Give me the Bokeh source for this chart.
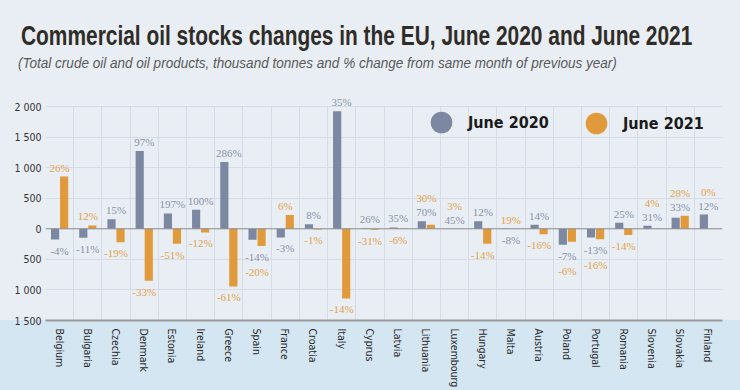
import numpy as np
from bokeh.plotting import figure
from bokeh.layouts import column
from bokeh.models import (ColumnDataSource, FactorRange, Range1d, FixedTicker, Grid, Span,
                          LabelSet, Legend, LegendItem, GlobalInlineStyleSheet, Div,
                          BoxAnnotation)
from bokeh.transform import dodge
from bokeh.embed import file_html
from bokeh.resources import INLINE

# ---------------- data ----------------
countries = ["Belgium", "Bulgaria", "Czechia", "Denmark", "Estonia", "Ireland", "Greece",
             "Spain", "France", "Croatia", "Italy", "Cyprus", "Latvia", "Lithuania",
             "Luxembourg", "Hungary", "Malta", "Austria", "Poland", "Portugal", "Romania",
             "Slovenia", "Slovakia", "Finland"]
jun2020 = [-175, -147, 158, 1275, 251, 311, 1095, -180, -142, 76, 1924, 10, 22, 125,
           3, 125, -3, 65, -262, -142, 98, 49, 180, 234]
jun2021 = [855, 55, -218, -850, -245, -60, -943, -283, 224, -10, -1139, -15, -5, 65,
           1, -245, 3, -87, -212, -169, -103, 5, 212, 0]
pct2020 = ["-4%", "-11%", "15%", "97%", "197%", "100%", "286%", "-14%", "-3%", "8%", "35%",
           "26%", "35%", "70%", "45%", "12%", "-8%", "14%", "-7%", "-13%", "25%", "31%",
           "33%", "12%"]
pct2021 = ["26%", "12%", "-19%", "-33%", "-51%", "-12%", "-61%", "-20%", "6%", "-1%", "-14%",
           "-31%", "-6%", "30%", "3%", "-14%", "19%", "-16%", "-6%", "-16%", "-14%", "4%",
           "28%", "0%"]
y_ticks = [-1500, -1000, -500, 0, 500, 1000, 1500, 2000]
y_tick_labels = ["1 500", "1 000", "500", "0", "500", "1 000", "1 500", "2 000"]
series_names = ["June 2020", "June 2021"]
title_text = "Commercial oil stocks changes in the EU, June 2020 and June 2021"
subtitle_text = ("(Total crude oil and oil products, thousand tonnes and % change "
                 "from same month of previous year)")

C20 = "#7c88a1"
C21 = "#e09a3b"
C20_TXT = "#8792a9"
C21_TXT = "#e3a24a"
BG = "#e9eef4"
BAND = "#d5e6f3"
FONT = "DejaVu Sans Condensed"
Y_HEADROOM = 230   # extra room above the 2 000 line so top labels are not clipped

bars = ColumnDataSource(dict(country=countries, v20=jun2020, v21=jun2021))

# label anchors: stacked when both values share a sign
lab_x, lab_y, lab_t, lab_off, lab_c = [], [], [], [], []
for i, c in enumerate(countries):
    a, b = jun2020[i], jun2021[i]
    same = (a >= 0) == (b >= 0)
    for lvl, (v, t, col) in enumerate([(a, pct2020[i], C20_TXT), (b, pct2021[i], C21_TXT)]):
        if same:
            anchor = max(a, b) if a >= 0 else min(a, b)
            level = lvl
        else:
            anchor = v
            level = 0
        off = (9 + 14 * level) if v >= 0 else -(11 + 15 * level)
        lab_x.append(c)
        lab_y.append(anchor)
        lab_t.append(t)
        lab_off.append(off)
        lab_c.append(col)
labels = ColumnDataSource(dict(x=lab_x, y=lab_y, t=lab_t, off=lab_off, c=lab_c))

# ---------------- title block ----------------
title_html = (
    '<div style="position:relative;width:740px;height:78px;overflow:hidden;">'
    '<div style="position:absolute;left:21px;top:23px;white-space:nowrap;'
    'font-family:\'Liberation Sans\',Arial,sans-serif;font-weight:bold;font-size:27px;'
    'line-height:27px;color:#302d28;transform:scaleX(0.774);transform-origin:0 0;">'
    + title_text + '</div>'
    '<div style="position:absolute;left:18px;top:56px;white-space:nowrap;'
    'font-family:\'Liberation Sans\',Arial,sans-serif;font-style:italic;font-size:14.5px;'
    'line-height:14.5px;color:#5a5a5a;transform:scaleX(0.933);transform-origin:0 0;">'
    + subtitle_text + '</div></div>')
head = Div(text=title_html, width=740, height=78, margin=0)

# ---------------- figure ----------------
p = figure(x_range=FactorRange(factors=countries, range_padding=0),
           y_range=Range1d(y_ticks[0], y_ticks[-1] + Y_HEADROOM),
           width=740, height=312, output_backend="svg", toolbar_location=None,
           min_border_left=45, min_border_right=18, min_border_top=14, min_border_bottom=70)
p.margin = 0
p.border_fill_color = None
p.background_fill_color = BG
p.outline_line_color = None
p.stylesheets = [GlobalInlineStyleSheet(css=(
    "html{min-height:100%;background:linear-gradient(180deg," + BG + " 0px," + BG +
    " 320px," + BAND + " 320px," + BAND + " 100%) !important;}"
    "body{background:transparent !important;}"))]

# grids
p.xgrid.visible = False
p.add_layout(Grid(dimension=0, ticker=FixedTicker(ticks=list(range(len(countries) + 1))),
                  grid_line_color="#d6dce5", grid_line_width=1))
p.yaxis.ticker = FixedTicker(ticks=y_ticks)
p.ygrid.grid_line_color = "#d6dce5"
p.ygrid.grid_line_width = 1
# hide vertical grid lines above the top (2 000) line
p.add_layout(BoxAnnotation(bottom=y_ticks[-1] + 8, fill_color=BG, fill_alpha=1,
                           line_color=None, level="underlay"))

# axes
p.yaxis.major_label_overrides = {t: s for t, s in zip(y_ticks, y_tick_labels)}
p.yaxis.axis_line_color = None
p.yaxis.major_tick_line_color = None
p.yaxis.minor_tick_line_color = None
p.yaxis.major_tick_out = 0
p.yaxis.major_label_standoff = 4
p.yaxis.major_label_text_font = FONT
p.yaxis.major_label_text_font_size = "10.5px"
p.yaxis.major_label_text_color = "#333333"

p.xaxis.axis_line_color = "#9a9a9a"
p.xaxis.axis_line_width = 2
p.xaxis.major_tick_line_color = None
p.xaxis.major_tick_out = 0
p.xaxis.major_tick_in = 0
p.xaxis.major_label_orientation = "vertical"
p.xaxis.major_label_standoff = 8
p.xaxis.major_label_text_font = FONT
p.xaxis.major_label_text_font_size = "10.5px"
p.xaxis.major_label_text_color = "#2b2b2b"

# bars
p.vbar(x=dodge("country", -0.16, range=p.x_range), top="v20", width=0.29, source=bars,
       fill_color=C20, line_color=None)
p.vbar(x=dodge("country", 0.16, range=p.x_range), top="v21", width=0.29, source=bars,
       fill_color=C21, line_color=None)
p.add_layout(Span(location=0, dimension="width", line_color="#8d8d8d", line_width=1))

# percentage labels
p.add_layout(LabelSet(x="x", y="y", text="t", source=labels, y_offset="off",
                      text_color="c", text_align="center", text_baseline="middle",
                      text_font=FONT, text_font_size="11px"))

# legend (two single-item legends)
d1 = p.scatter(x=[countries[0]], y=[np.nan], size=23, fill_color=C20, line_color=None)
d2 = p.scatter(x=[countries[0]], y=[np.nan], size=23, fill_color=C21, line_color=None)
for r, name, loc in [(d1, series_names[0], (369, 169)), (d2, series_names[1], (524, 168))]:
    lg = Legend(items=[LegendItem(label=name, renderers=[r])], location=loc,
                orientation="horizontal", glyph_width=54, glyph_height=58,
                label_standoff=0, padding=0, margin=0, border_line_color=None,
                background_fill_alpha=0, label_text_font=FONT,
                label_text_font_style="bold", label_text_font_size="16px",
                label_text_color="#1a1a1a", label_text_baseline="middle")
    p.add_layout(lg)

layout = column(head, p, spacing=0, margin=0)
open("out.html", "w").write(file_html(layout, INLINE))
